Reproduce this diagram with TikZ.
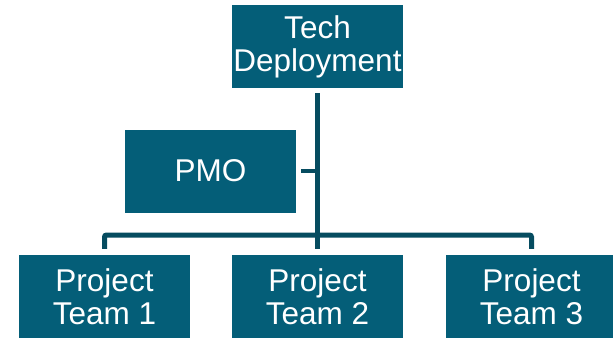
\documentclass[tikz,border=0pt]{standalone}
\usepackage{fontspec}
\setmainfont{Liberation Sans}
\usetikzlibrary{calc}

\definecolor{boxteal}{RGB}{4,94,120}
\definecolor{lineteal}{RGB}{6,76,96}

\begin{document}
\begin{tikzpicture}[x=1pt,y=1pt,
        unitbox/.style={fill=boxteal,text=white,minimum width=171pt,minimum height=83pt,
            inner sep=0pt,align=center,font=\fontsize{31.5}{33}\selectfont},
        link/.style={draw=lineteal,line width=5pt,rounded corners=2pt}]%
    \useasboundingbox (0,0) rectangle (613,338);
    \node[unitbox] (tech) at (317.5,291.5) {Tech\\Deployment};
    \node[unitbox] (pmo) at (210.5,167) {PMO};
    \node[unitbox] (team1) at (104.5,41.5) {Project\\Team 1};
    \node[unitbox] (team2) at (317.5,41.5) {Project\\Team 2};
    \node[unitbox] (team3) at (531.5,41.5) {Project\\Team 3};
    \coordinate (bus) at (317.5,103);
    % trunk and branches
    \draw[link] ([yshift=-5pt]tech.south) -- ([yshift=6pt]team2.north);
    \draw[link] ([yshift=6pt]team1.north) |- (bus) -| ([yshift=6pt]team3.north);
    \draw[link,line width=4.5pt] ([xshift=5pt]pmo.east) -- (pmo.east -| tech.south);
\end{tikzpicture}
\end{document}
